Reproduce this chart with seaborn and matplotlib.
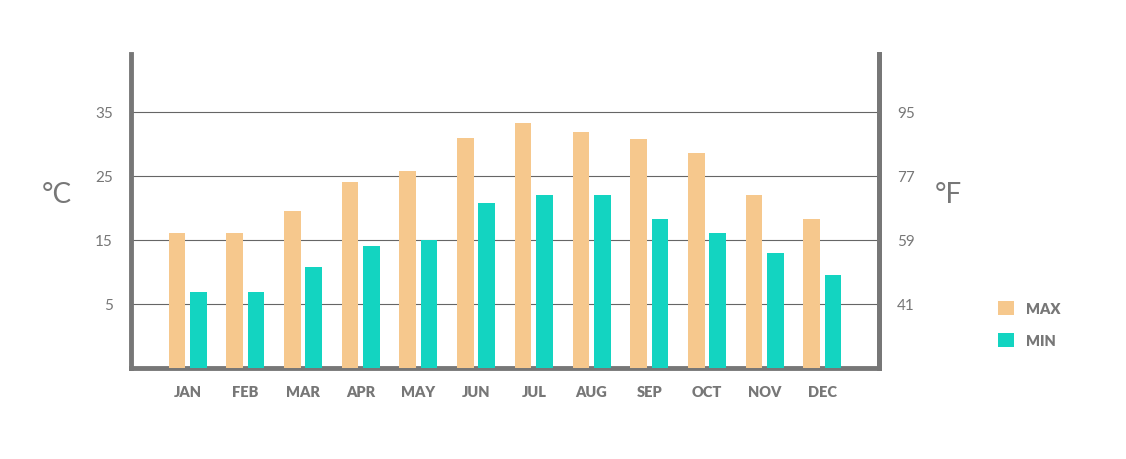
import pandas as pd
import numpy as np
import matplotlib
matplotlib.use("Agg")
import matplotlib.pyplot as plt
import seaborn as sns

# monthly temperatures in degrees C
months = ["JAN", "FEB", "MAR", "APR", "MAY", "JUN", "JUL", "AUG", "SEP", "OCT", "NOV", "DEC"]
max_c = [16.1, 16.1, 19.6, 24.1, 25.8, 30.9, 33.3, 31.8, 30.8, 28.6, 22.1, 18.3]
min_c = [6.9, 6.9, 10.8, 14.0, 15.0, 20.7, 22.1, 22.1, 18.3, 16.1, 12.9, 9.6]
c_ticks = [5, 15, 25, 35]
f_ticks = [41, 59, 77, 95]

df = pd.DataFrame({"month": months * 2,
                   "temp": max_c + min_c,
                   "kind": ["MAX"] * 12 + ["MIN"] * 12})

sns.set_style("white")
plt.rcParams["font.family"] = ["Lato", "DejaVu Sans"]

grey = "#777777"
y_bottom, y_top = -5, 44.0
fig = plt.figure(figsize=(11.26, 4.6), dpi=100)
ax = fig.add_axes([0.1163, 0.1978, 0.6643, 0.682])

sns.barplot(data=df, x="month", y="temp", hue="kind", order=months,
            palette={"MAX": "#F6C88D", "MIN": "#13D4C1"},
            width=0.74, gap=0.22, saturation=1, linewidth=0, ax=ax, zorder=3)

# bars run down to the bottom axis line
for p in ax.patches:
    h = p.get_height()
    p.set_y(y_bottom)
    p.set_height(h - y_bottom)

ax.set_xlim(-0.98, 11.98)
ax.set_ylim(y_bottom, y_top)
ax.set_yticks(c_ticks)
ax.set_xlabel("")
ax.set_ylabel("")
ax.yaxis.grid(True, color="#666666", lw=0.8, zorder=0)
ax.set_axisbelow(True)
ax.tick_params(axis="y", length=0, pad=13, labelsize=11, labelcolor=grey)
ax.tick_params(axis="x", length=0, pad=12, labelsize=10.5, labelcolor=grey)
for lab in ax.get_xticklabels():
    lab.set_fontweight("heavy")

for side in ["left", "bottom", "right"]:
    ax.spines[side].set_color(grey)
    ax.spines[side].set_linewidth(3.5)
ax.spines["top"].set_visible(False)

ax2 = ax.twinx()
ax2.set_ylim(y_bottom * 1.8 + 32, y_top * 1.8 + 32)
ax2.set_yticks(f_ticks)
ax2.tick_params(axis="y", length=0, pad=13, labelsize=11, labelcolor=grey)
for side in ["left", "bottom", "top"]:
    ax2.spines[side].set_visible(False)
ax2.spines["right"].set_color(grey)
ax2.spines["right"].set_linewidth(3.5)

fig.text(0.037, 0.577, "°C", fontsize=20, color=grey, va="center", ha="left")
fig.text(0.830, 0.577, "°F", fontsize=20, color=grey, va="center", ha="left")

handles, labels = ax.get_legend_handles_labels()
ax.legend_.remove()
leg = fig.legend(handles, labels, loc="center left", bbox_to_anchor=(0.875, 0.293),
                 frameon=False, handlelength=1.1, handleheight=1.1,
                 labelspacing=1.2, handletextpad=0.8,
                 prop={"size": 10.5, "weight": "heavy"})
for t in leg.get_texts():
    t.set_color(grey)

fig.savefig("out.png", dpi=100)
